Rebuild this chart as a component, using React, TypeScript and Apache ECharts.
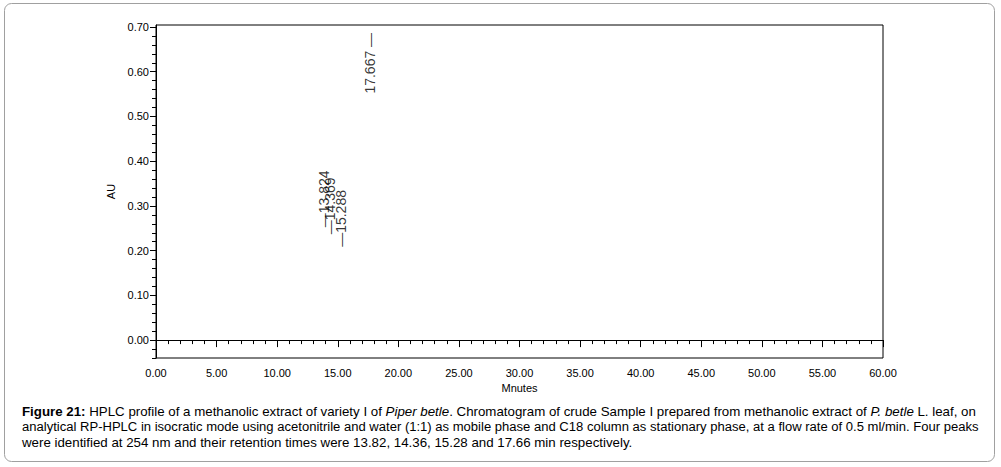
import React, { useEffect, useRef } from "react";
import * as echarts from "echarts";

// Peak retention times (min), label anchor heights (AU) and label texts
const peakTimes = [13.824, 14.369, 15.288, 17.667];
const peakLabelAU = [0.316, 0.3, 0.272, 0.619];
const peakLabels = ["—13.824", "—14.369", "—15.288", "17.667 —"];

// Axis tick labels
const yMajorTicks = [0, 0.1, 0.2, 0.3, 0.4, 0.5, 0.6, 0.7];
const yMinorTicks = [
  -0.04, -0.02, 0.02, 0.04, 0.06, 0.08, 0.12, 0.14, 0.16, 0.18, 0.22, 0.24, 0.26, 0.28,
  0.32, 0.34, 0.36, 0.38, 0.42, 0.44, 0.46, 0.48, 0.52, 0.54, 0.56, 0.58, 0.62, 0.64,
  0.66, 0.68,
];

const captionLines = [
  "{b|Figure 21:} HPLC profile of a methanolic extract of variety I of {i|Piper betle}. Chromatogram of crude Sample I prepared from methanolic extract of {i|P. betle} L. leaf, on",
  "analytical RP-HPLC in isocratic mode using acetonitrile and water (1:1) as mobile phase and C18 column as stationary phase, at a flow rate of 0.5 ml/min. Four peaks",
  "were identified at 254 nm and their retention times were 13.82, 14.36, 15.28 and 17.66 min respectively.",
];

const FONT = "'Liberation Sans', Arial, sans-serif";
const captionSizes = [13.3, 13.05, 13.3];

export default function App() {
  const ref = useRef<HTMLDivElement>(null);

  useEffect(() => {
    document.body.style.margin = "0";
    const chart = echarts.init(ref.current!, null, { renderer: "svg" });
    const captionY = [411, 426.5, 442];
    chart.setOption({
      animation: false,
      backgroundColor: "#fff",
      grid: {
        left: 156,
        top: 25,
        width: 727,
        height: 333,
        show: true,
        borderColor: "#000",
        borderWidth: 1,
        backgroundColor: "transparent",
      },
      xAxis: {
        type: "value",
        min: 0,
        max: 60,
        interval: 5,
        name: "Mnutes",
        nameLocation: "middle",
        nameGap: 24,
        nameTextStyle: { fontFamily: FONT, fontSize: 11, color: "#000" },
        axisLine: { show: true, lineStyle: { color: "#000", width: 1 } },
        axisTick: { show: true, length: 7, lineStyle: { color: "#000" } },
        minorTick: { show: true, splitNumber: 5, length: 4, lineStyle: { color: "#000" } },
        splitLine: { show: false },
        axisLabel: {
          formatter: (v: number) => v.toFixed(2),
          fontFamily: FONT,
          fontSize: 11,
          color: "#000",
          margin: 9,
        },
      },
      yAxis: [
        {
          type: "value",
          min: -0.04,
          max: 0.7045,
          position: "left",
          name: "AU",
          nameLocation: "middle",
          nameGap: 40,
          nameTextStyle: { fontFamily: FONT, fontSize: 11, color: "#000" },
          axisLine: { show: true, lineStyle: { color: "#000", width: 1 } },
          axisTick: { show: true, length: 6, customValues: yMajorTicks, lineStyle: { color: "#000" } },
          splitLine: { show: false },
          axisLabel: {
            customValues: yMajorTicks,
            formatter: (v: number) => v.toFixed(2),
            fontFamily: FONT,
            fontSize: 11,
            color: "#000",
            margin: 7,
          },
        },
        {
          type: "value",
          min: -0.04,
          max: 0.7045,
          position: "left",
          axisLine: { show: false },
          axisTick: { show: true, length: 4, customValues: yMinorTicks, lineStyle: { color: "#000" } },
          axisLabel: { show: false },
          splitLine: { show: false },
        },
      ],
      series: [
        {
          type: "scatter",
          xAxisIndex: 0,
          yAxisIndex: 0,
          symbolSize: 0,
          silent: true,
          data: peakTimes.map((t, i) => ({ value: [t, peakLabelAU[i]], name: peakLabels[i] })),
          label: {
            show: true,
            rotate: 90,
            position: "inside",
            formatter: "{b}",
            fontFamily: FONT,
            fontSize: 14,
            color: "#000",
          },
          labelLayout: { hideOverlap: false },
        },
      ],
      graphic: [
        {
          type: "rect",
          silent: true,
          shape: { x: 4.5, y: 3.5, width: 990, height: 458, r: 7 },
          style: { fill: "none", stroke: "#a0a0a0", lineWidth: 1 },
        },
        ...captionLines.map((line, i) => ({
          type: "text",
          silent: true,
          x: 22,
          y: captionY[i],
          style: {
            text: line,
            font: `${captionSizes[i]}px ${FONT}`,
            fill: "#000",
            verticalAlign: "middle",
            rich: {
              b: { fontWeight: "bold", fontSize: captionSizes[i], fontFamily: FONT, fill: "#000" },
              i: { fontStyle: "italic", fontSize: captionSizes[i], fontFamily: FONT, fill: "#000" },
            },
          },
        })),
      ],
    });
    return () => chart.dispose();
  }, []);

  return <div ref={ref} style={{ width: 1001, height: 467 }} />;
}
